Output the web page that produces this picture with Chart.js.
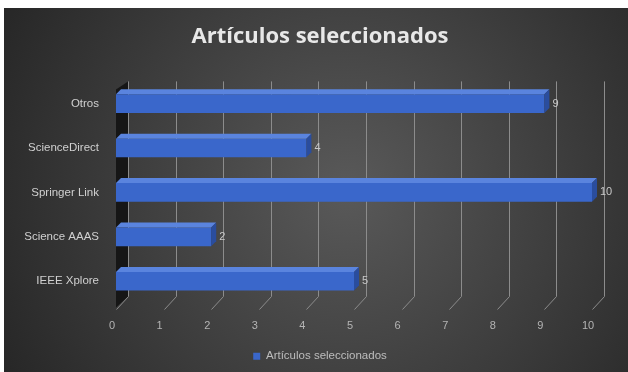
<!DOCTYPE html>
<html>
<head>
<meta charset="utf-8">
<script src="https://cdn.jsdelivr.net/npm/chart.js@4"></script>
<style>
  html, body { margin: 0; padding: 0; background: #fff; }
  #wrap { position: absolute; left: 4px; top: 8px; width: 624px; height: 364px; }
</style>
</head>
<body>
<div id="wrap"><canvas id="myBarChart" width="624" height="364"></canvas></div>
<script>
// data, bottom to top as in the sheet
const categories = ['IEEE Xplore', 'Science AAAS', 'Springer Link', 'ScienceDirect', 'Otros'];
const articulos = [5, 2, 10, 4, 9];
const xTicks = [0, 1, 2, 3, 4, 5, 6, 7, 8, 9, 10];

const DX = 5, DY = 5;   // fake 3d depth of the bars
const WALL = 12;        // depth of the back wall
const FONT = '"Liberation Sans", sans-serif';

// dark radial background
const bgPlugin = {
  id: 'bg',
  beforeDraw(chart) {
    const c = chart.ctx, w = chart.width, h = chart.height;
    const g = c.createRadialGradient(w * 0.55, h * 0.5, 10, w * 0.55, h * 0.5, w * 0.62);
    g.addColorStop(0, '#585858');
    g.addColorStop(1, '#272727');
    c.save();
    c.fillStyle = g;
    c.fillRect(0, 0, w, h);
    c.restore();
  }
};

// back wall gridlines + left wall
const wallPlugin = {
  id: 'wall',
  beforeDatasetsDraw(chart) {
    const c = chart.ctx, area = chart.chartArea, x = chart.scales.x;
    c.save();
    // left side wall
    c.fillStyle = '#161616';
    c.beginPath();
    c.moveTo(area.left, area.top + 8);
    c.lineTo(area.left + WALL, area.top);
    c.lineTo(area.left + WALL, area.bottom - 7);
    c.lineTo(area.left, area.bottom + 4);
    c.closePath();
    c.fill();
    // gridlines
    c.strokeStyle = '#8c8c8c';
    c.lineWidth = 1;
    xTicks.forEach(v => {
      const px = Math.round(x.getPixelForValue(v) + WALL) + 0.5;
      c.beginPath();
      c.moveTo(px, area.top);
      c.lineTo(px, area.bottom - 7);
      c.lineTo(px - WALL, area.bottom + 6);
      c.stroke();
    });
    c.restore();
  }
};

// top and side faces, value labels
const facePlugin = {
  id: 'faces',
  afterDatasetsDraw(chart) {
    const c = chart.ctx;
    const meta = chart.getDatasetMeta(0);
    c.save();
    meta.data.forEach((bar, i) => {
      const p = bar.getProps(['x', 'y', 'base', 'height'], true);
      const top = p.y - p.height / 2, bot = p.y + p.height / 2;
      // top face
      c.fillStyle = '#5a84de';
      c.beginPath();
      c.moveTo(p.base, top);
      c.lineTo(p.base + DX, top - DY);
      c.lineTo(p.x + DX, top - DY);
      c.lineTo(p.x, top);
      c.closePath();
      c.fill();
      // right face
      c.fillStyle = '#2a4d9e';
      c.beginPath();
      c.moveTo(p.x, top);
      c.lineTo(p.x + DX, top - DY);
      c.lineTo(p.x + DX, bot - DY);
      c.lineTo(p.x, bot);
      c.closePath();
      c.fill();
      // value
      c.fillStyle = '#c8c8c8';
      c.font = '11px ' + FONT;
      c.textBaseline = 'middle';
      c.textAlign = 'left';
      c.fillText(articulos[i], p.x + DX + 3, p.y);
    });
    c.restore();
  }
};

const ctx = document.getElementById('myBarChart').getContext('2d');
const myBarChart = new Chart(ctx, {
  type: 'bar',
  data: {
    labels: categories,
    datasets: [{
      label: 'Artículos seleccionados',
      data: articulos,
      backgroundColor: '#3a67cb',
      borderWidth: 0,
      barPercentage: 0.42,
      categoryPercentage: 1
    }]
  },
  options: {
    indexAxis: 'y',
    responsive: false,
    animation: false,
    layout: { padding: { left: 8, right: 0, bottom: 0 } },
    scales: {
      x: {
        min: 0,
        max: 10,
        grid: { display: false, drawTicks: false },
        border: { display: false },
        ticks: {
          stepSize: 1,
          padding: 16,
          labelOffset: -4,
          color: '#b4b4b4',
          font: { family: FONT, size: 11 }
        },
        afterFit(scale) { scale.height = 41; }
      },
      y: {
        reverse: true,
        grid: { display: false, drawTicks: false },
        border: { display: false },
        ticks: {
          padding: 17,
          color: '#d0d0d0',
          font: { family: FONT, size: 11.5 }
        },
        afterFit(scale) { scale.width = 104; }
      },
      // empty right axis, only keeps room for the "10" label
      yRight: {
        type: 'category',
        position: 'right',
        grid: { display: false, drawTicks: false },
        border: { display: false },
        ticks: { display: false },
        afterFit(scale) { scale.width = 36; }
      }
    },
    plugins: {
      tooltip: { enabled: false },
      title: {
        display: true,
        text: 'Artículos seleccionados',
        color: '#e8e8e8',
        font: { family: '"Open Sans", sans-serif', size: 22, weight: 'bold', lineHeight: 1.2 },
        padding: { top: 16, bottom: 31 }
      },
      legend: {
        position: 'bottom',
        labels: {
          color: '#bdbdbd',
          boxWidth: 7,
          boxHeight: 7,
          padding: 6,
          font: { family: FONT, size: 11.5 }
        }
      }
    }
  },
  plugins: [bgPlugin, wallPlugin, facePlugin]
});
</script>
</body>
</html>
